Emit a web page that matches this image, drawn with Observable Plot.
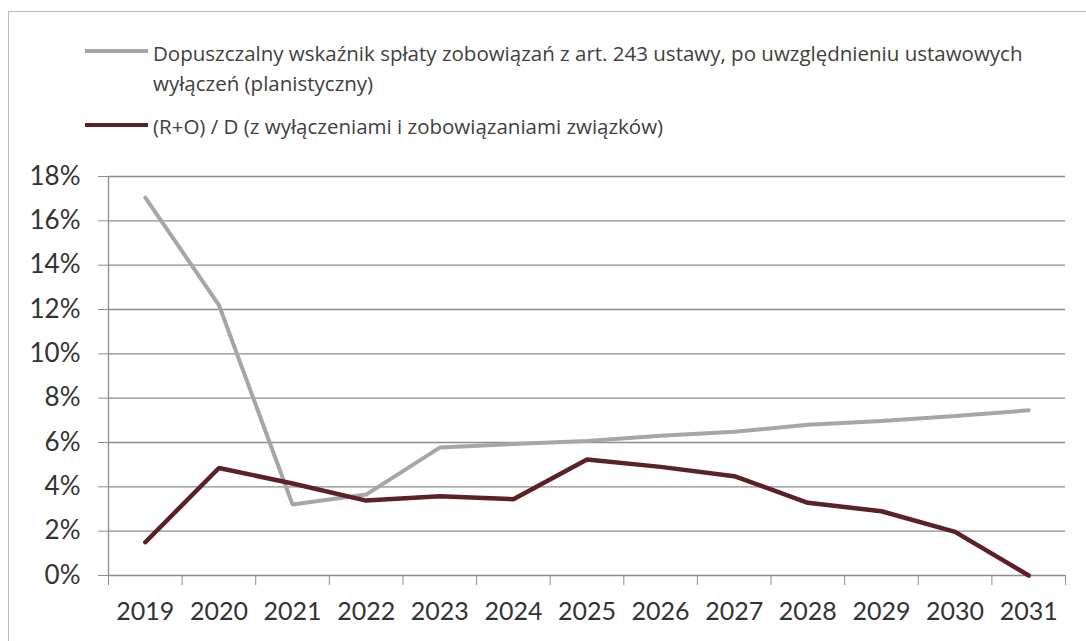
<!DOCTYPE html>
<html>
<head>
<meta charset="utf-8">
<script src="https://cdn.jsdelivr.net/npm/d3@7"></script>
<script src="https://cdn.jsdelivr.net/npm/@observablehq/plot@0.6"></script>
<style>
  html, body { margin: 0; padding: 0; background: #fff; width: 1086px; height: 641px; overflow: hidden; }
  #frame { position: absolute; left: 8px; top: 11px; width: 1200px; height: 800px; border: 1px solid #bdbdbd; box-sizing: border-box; }
  #legend { position: relative; height: 150px; font-family: "Open Sans", sans-serif; font-size: 20.5px; color: #404040; }
  .sw { position: absolute; left: 85px; width: 63px; height: 4px; }
  .lt { position: absolute; left: 153px; line-height: 30px; white-space: nowrap; }
  #chart { position: relative; }
</style>
</head>
<body>
<div id="frame"></div>
<div id="legend"></div>
<div id="chart"></div>
<script>
const years = [2019, 2020, 2021, 2022, 2023, 2024, 2025, 2026, 2027, 2028, 2029, 2030, 2031];
const dopuszczalny = [17.05, 12.2, 3.2, 3.65, 5.77, 5.93, 6.07, 6.3, 6.48, 6.8, 6.97, 7.2, 7.45];
const relacja = [1.5, 4.85, 4.15, 3.38, 3.58, 3.44, 5.23, 4.9, 4.48, 3.28, 2.9, 1.97, 0];
const yTicks = [0, 2, 4, 6, 8, 10, 12, 14, 16, 18];
const seriesNames = [
  ["Dopuszczalny wskaźnik spłaty zobowiązań z art. 243 ustawy, po uwzględnieniu ustawowych", "wyłączeń (planistyczny)"],
  ["(R+O) / D (z wyłączeniami i zobowiązaniami związków)"]
];
const seriesColors = ["#a6a6a6", "#5b2126"];

// legend
const legend = document.getElementById("legend");
const rows = [{sw: 49, tx: 38}, {sw: 123, tx: 111}];
seriesNames.forEach((lines, i) => {
  const sw = document.createElement("div");
  sw.className = "sw";
  sw.style.top = rows[i].sw + "px";
  sw.style.background = seriesColors[i];
  legend.appendChild(sw);
  const t = document.createElement("div");
  t.className = "lt";
  t.style.top = rows[i].tx + "px";
  lines.forEach((l, j) => {
    if (j) t.appendChild(document.createElement("br"));
    t.appendChild(document.createTextNode(l));
  });
  legend.appendChild(t);
});

const boundaries = years.map(y => y - 0.5).concat([years[years.length - 1] + 0.5]);
const dataA = years.map((y, i) => ({year: y, v: dopuszczalny[i]}));
const dataB = years.map((y, i) => ({year: y, v: relacja[i]}));

const chart = Plot.plot({
  width: 1086,
  height: 491,
  marginTop: 26,
  marginBottom: 66,
  marginLeft: 108,
  marginRight: 21,
  style: {fontFamily: "Lato, sans-serif", fontSize: "25px", color: "#333", background: "transparent", overflow: "visible"},
  x: {type: "linear", domain: [boundaries[0], boundaries[boundaries.length - 1]]},
  y: {domain: [0, 18]},
  marks: [
    Plot.gridY(yTicks, {stroke: "#8c8c8c", strokeOpacity: 1, strokeWidth: 1.3}),
    Plot.ruleX([boundaries[0]], {y1: 0, y2: 18, stroke: "#8c8c8c", strokeWidth: 1.3}),
    Plot.axisY(yTicks, {tickSize: 10, tickPadding: 18, tickFormat: d => d + "%", stroke: "#8c8c8c", fill: "#333", fontSize: 26, label: null}),
    Plot.axisX(boundaries, {tickSize: 10, tickFormat: () => "", stroke: "#8c8c8c", label: null}),
    Plot.axisX(years, {tickSize: 0, tickPadding: 27, tickFormat: d => String(d), fill: "#333", label: null}),
    Plot.line(dataA, {x: "year", y: "v", stroke: seriesColors[0], strokeWidth: 4, strokeLinejoin: "miter"}),
    Plot.line(dataB, {x: "year", y: "v", stroke: seriesColors[1], strokeWidth: 4.5, strokeLinejoin: "miter"})
  ]
});
document.getElementById("chart").appendChild(chart);
</script>
</body>
</html>
